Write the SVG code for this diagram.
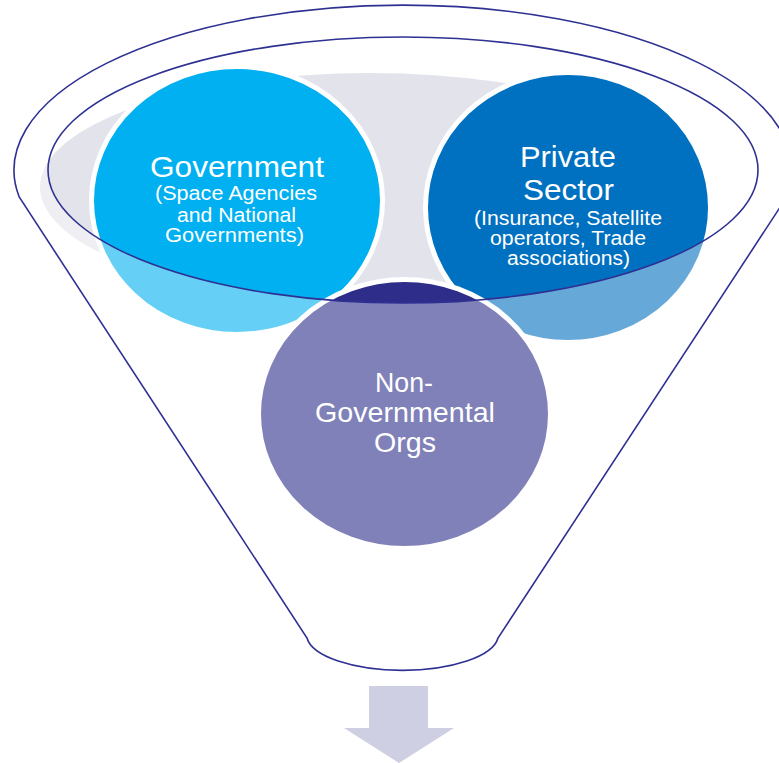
<svg xmlns="http://www.w3.org/2000/svg" width="779" height="763" viewBox="0 0 779 763">
<style>
.t{font-family:"Liberation Sans",Arial,sans-serif;fill:#fff;text-anchor:middle}
.h{font-size:29px}
.s{font-size:19.5px}
.n{font-size:28px}
.node{stroke:#fff;stroke-width:5}
.line{fill:none;stroke:#2E3192;stroke-width:1.6}
</style>
<rect width="779" height="763" fill="#fff"/>
<g id="funnel-top">
<ellipse cx="370" cy="187" rx="330" ry="114" fill="#E3E3EC"/>
</g>
<g id="government">
<ellipse class="node" cx="237" cy="200.5" rx="145.5" ry="134" fill="#00B0F0"/>
</g>
<g id="private-sector">
<ellipse class="node" cx="568" cy="207.5" rx="142.5" ry="135" fill="#0070C0"/>
</g>
<g id="ngo">
<ellipse class="node" cx="404.5" cy="414" rx="146" ry="134.5" fill="#2E2D8A"/>
</g>
<path d="M0,0H779V763H0Z M48,170 A355,133 0 1,0 758,170 A355,133 0 1,0 48,170Z" fill="#fff" fill-opacity="0.4" fill-rule="evenodd"/>
<g id="labels">
<text class="t h" x="237" y="177" textLength="174" lengthAdjust="spacingAndGlyphs">Government</text>
<text class="t s" x="236" y="200" textLength="162" lengthAdjust="spacingAndGlyphs">(Space Agencies</text>
<text class="t s" x="236.5" y="222" textLength="119" lengthAdjust="spacingAndGlyphs">and National</text>
<text class="t s" x="234.5" y="242" textLength="139" lengthAdjust="spacingAndGlyphs">Governments)</text>
<text class="t h" x="568" y="167" textLength="96" lengthAdjust="spacingAndGlyphs">Private</text>
<text class="t h" x="568.5" y="200" textLength="91" lengthAdjust="spacingAndGlyphs">Sector</text>
<text class="t s" x="568" y="225" textLength="188" lengthAdjust="spacingAndGlyphs">(Insurance, Satellite</text>
<text class="t s" x="568" y="245" textLength="156" lengthAdjust="spacingAndGlyphs">operators, Trade</text>
<text class="t s" x="568.5" y="265" textLength="123" lengthAdjust="spacingAndGlyphs">associations)</text>
<text class="t n" x="404" y="392" textLength="58" lengthAdjust="spacingAndGlyphs">Non-</text>
<text class="t n" x="405" y="422" textLength="180" lengthAdjust="spacingAndGlyphs">Governmental</text>
<text class="t n" x="405" y="452" textLength="62" lengthAdjust="spacingAndGlyphs">Orgs</text>
</g>
<g id="connectors">
<path class="line" d="M19.2,197 A389,165 0 1,1 786.8,197 L498,638 A96,36 0 0,1 307,638 Z"/>
<ellipse class="line" cx="403" cy="170" rx="355" ry="133"/>
<polygon points="369,686 428,686 428,728 454,728 399,763 344,728 369,728" fill="#CFCFE3"/>
</g>
</svg>
